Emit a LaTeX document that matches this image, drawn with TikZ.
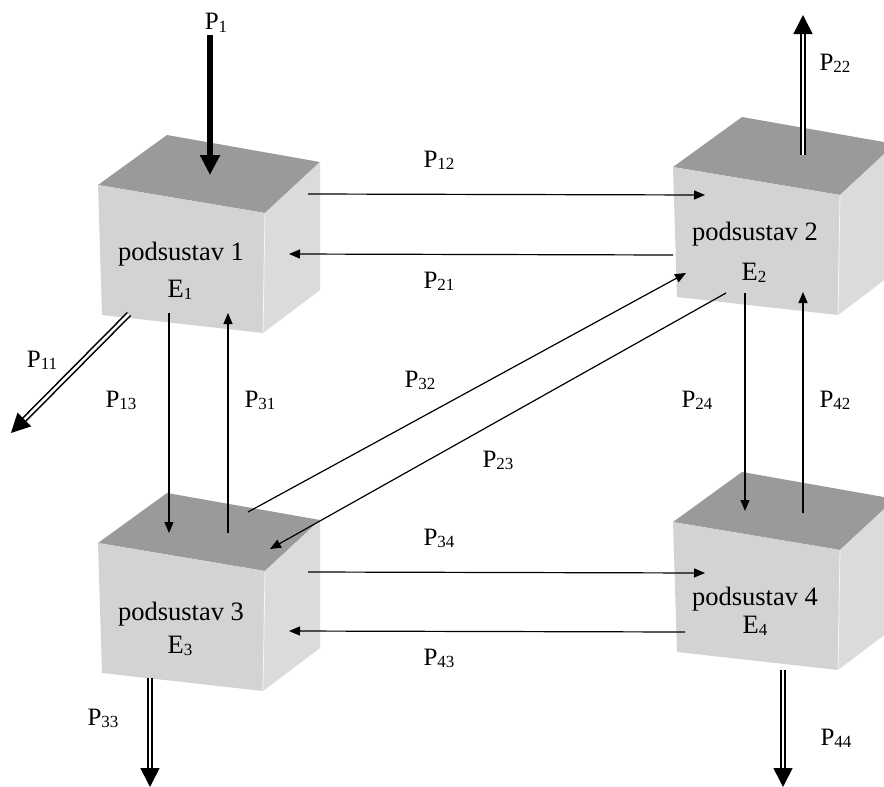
\documentclass[tikz,border=0pt]{standalone}
\usepackage{fontspec}
\setmainfont{Liberation Serif}
\usetikzlibrary{arrows.meta}
\definecolor{topg}{HTML}{9A9A9A}
\definecolor{frontg}{HTML}{D3D3D3}
\definecolor{sideg}{HTML}{DBDBDB}
\newcommand\Psb[1]{P\raisebox{-0.22ex}{\fontsize{17}{17}\selectfont #1}}
\newcommand\Esb[1]{E\raisebox{-0.22ex}{\fontsize{17}{17}\selectfont #1}}
\tikzset{cubebox/.pic={
  \fill[topg] (0,0) -- (69,-50) -- (222,-23) -- (167,28) -- cycle;
  \fill[sideg] (167,28) -- (222,-23) -- (222,105) -- (165,148) -- cycle;
  \fill[frontg] (0,0) -- (167,28) -- (165,148) -- (4,130) -- cycle;
  \draw[white!80!frontg, line width=0.8pt] (167,28) -- (165,148);
}}
\begin{document}
\begin{tikzpicture}[x=1pt,y=-1pt,
  lbl/.style={anchor=base, inner sep=0pt, font=\fontsize{25}{28}\selectfont},
  boxtxt/.style={anchor=base, inner sep=0pt, font=\fontsize{26.5}{30}\selectfont},
  flow/.style={line width=1.2pt, -{Triangle[length=11pt,width=9pt]}},
  dflow/.style={double, line width=1.6pt, double distance=2.6pt, -{Triangle[length=19pt,width=19pt]}},
  inflow/.style={line width=6pt, -{Triangle[length=20pt,width=19pt]}}]
\useasboundingbox (0,0) rectangle (884,787);
\clip (0,0) rectangle (884,787);
% cubes
\pic at (98,185) {cubebox};
\pic at (673,167) {cubebox};
\pic at (98,543) {cubebox};
\pic at (673,522) {cubebox};
% cube texts
\node[boxtxt] (s1) at (181,260) {podsustav 1};
\node[boxtxt] (e1) at (180,297) {\Esb{1}};
\node[boxtxt] (s2) at (755,240) {podsustav 2};
\node[boxtxt] (e2) at (754,280) {\Esb{2}};
\node[boxtxt] (s3) at (181,620) {podsustav 3};
\node[boxtxt] (e3) at (180,653) {\Esb{3}};
\node[boxtxt] (s4) at (755,605) {podsustav 4};
\node[boxtxt] (e4) at (755,633) {\Esb{4}};
% endpoints
\coordinate (p1a) at (210,35);   \coordinate (p1b) at (210,175);
\coordinate (p22a) at (803,155); \coordinate (p22b) at (803,15);
\coordinate (p11a) at (129,314); \coordinate (p11b) at (11,433);
\coordinate (p33a) at (150,678); \coordinate (p33b) at (150,787);
\coordinate (p44a) at (783,670); \coordinate (p44b) at (783,787);
\coordinate (p12a) at (308,194); \coordinate (p12b) at (705,195);
\coordinate (p21a) at (673,255); \coordinate (p21b) at (289,254);
\coordinate (p34a) at (308,572); \coordinate (p34b) at (705,573);
\coordinate (p43a) at (685,632); \coordinate (p43b) at (289,631);
\coordinate (p13a) at (169,313); \coordinate (p13b) at (169,533);
\coordinate (p31a) at (228,533); \coordinate (p31b) at (228,313);
\coordinate (p24a) at (745,293); \coordinate (p24b) at (745,511);
\coordinate (p42a) at (803,513); \coordinate (p42b) at (803,292);
\coordinate (p32a) at (248,512); \coordinate (p32b) at (686,273);
\coordinate (p23a) at (726,293); \coordinate (p23b) at (270,549);
% arrows
\draw[inflow] (p1a) -- (p1b);
\draw[dflow] (p22a) -- (p22b);
\draw[dflow] (p11a) -- (p11b);
\draw[dflow] (p33a) -- (p33b);
\draw[dflow] (p44a) -- (p44b);
\draw[flow] (p12a) -- (p12b);
\draw[flow] (p21a) -- (p21b);
\draw[flow] (p34a) -- (p34b);
\draw[flow] (p43a) -- (p43b);
\draw[flow] (p13a) -- (p13b);
\draw[flow] (p31a) -- (p31b);
\draw[flow] (p24a) -- (p24b);
\draw[flow] (p42a) -- (p42b);
\draw[flow] (p32a) -- (p32b);
\draw[flow] (p23a) -- (p23b);
% labels
\node[lbl] (l1) at (216,30) {\Psb{1}};
\node[lbl] (l22) at (835,70) {\Psb{22}};
\node[lbl] (l11) at (42,367) {\Psb{11}};
\node[lbl] (l12) at (439,167) {\Psb{12}};
\node[lbl] (l21) at (439,288) {\Psb{21}};
\node[lbl] (l13) at (121,407) {\Psb{13}};
\node[lbl] (l31) at (260,407) {\Psb{31}};
\node[lbl] (l32) at (420,387) {\Psb{32}};
\node[lbl] (l23) at (498,467) {\Psb{23}};
\node[lbl] (l24) at (697,407) {\Psb{24}};
\node[lbl] (l42) at (835,407) {\Psb{42}};
\node[lbl] (l34) at (439,545) {\Psb{34}};
\node[lbl] (l43) at (439,665) {\Psb{43}};
\node[lbl] (l33) at (103,725) {\Psb{33}};
\node[lbl] (l44) at (836,745) {\Psb{44}};
\end{tikzpicture}
\end{document}
